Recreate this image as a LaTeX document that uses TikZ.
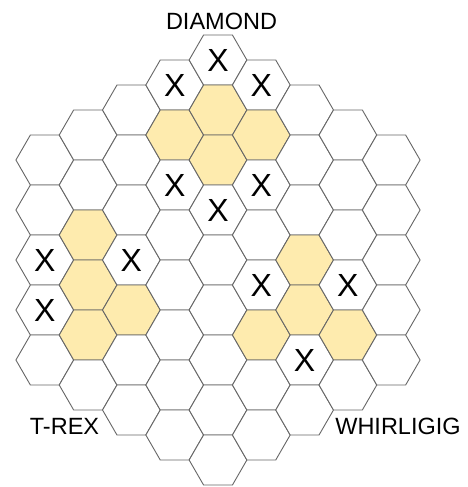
\documentclass[tikz,border=0pt]{standalone}
\usepackage{fontspec}
\setmainfont{Liberation Sans}
\usetikzlibrary{shapes.geometric}
\definecolor{hexyellow}{HTML}{FEEBAE}
\definecolor{hexline}{HTML}{666666}
\tikzset{
  hexcell/.style={regular polygon, regular polygon sides=6, minimum size=57.74pt,
    inner sep=0pt, outer sep=0pt, draw=hexline, line width=0.9pt, fill=white,
    font=\fontsize{32}{32}\selectfont, node contents={}},
  yc/.style={fill=hexyellow},
  xc/.style={node contents=X},
  boardlabel/.style={inner sep=0pt, font=\fontsize{23.5}{24}\selectfont},
  % yellow cells
  cell 0-1/.style={yc}, cell 0-2/.style={yc}, cell -1-1/.style={yc}, cell 1-1/.style={yc},
  cell -3-2/.style={yc}, cell -3-3/.style={yc}, cell -3-4/.style={yc}, cell -2-4/.style={yc},
  cell 2-3/.style={yc}, cell 2-4/.style={yc}, cell 1-5/.style={yc}, cell 3-4/.style={yc},
  % X cells
  cell 0-0/.style={xc}, cell -1-0/.style={xc}, cell 1-0/.style={xc},
  cell -1-2/.style={xc}, cell 1-2/.style={xc}, cell 0-3/.style={xc},
  cell -4-2/.style={xc}, cell -4-3/.style={xc}, cell -2-3/.style={xc},
  cell 1-4/.style={xc}, cell 3-3/.style={xc}, cell 2-5/.style={xc},
}
\begin{document}
\begin{tikzpicture}[x=1pt,y=-1pt]
\useasboundingbox (0,0) rectangle (468,487);
\foreach \k in {-4,...,4}{
  \pgfmathtruncatemacro\n{8-abs(\k)}
  \foreach \j in {0,...,\n}{
    \node (c\k-\j) at ({218+43.301*\k},{60+25*abs(\k)+50*\j}) [hexcell, cell \k-\j/.try];
  }
}
\node[boardlabel] (diamond) at (221.5,21.5) {DIAMOND};
\node[boardlabel] (trex) at (64.5,426) {T-REX};
\node[boardlabel] (whirligig) at (398,426) {WHIRLIGIG};
\end{tikzpicture}
\end{document}
